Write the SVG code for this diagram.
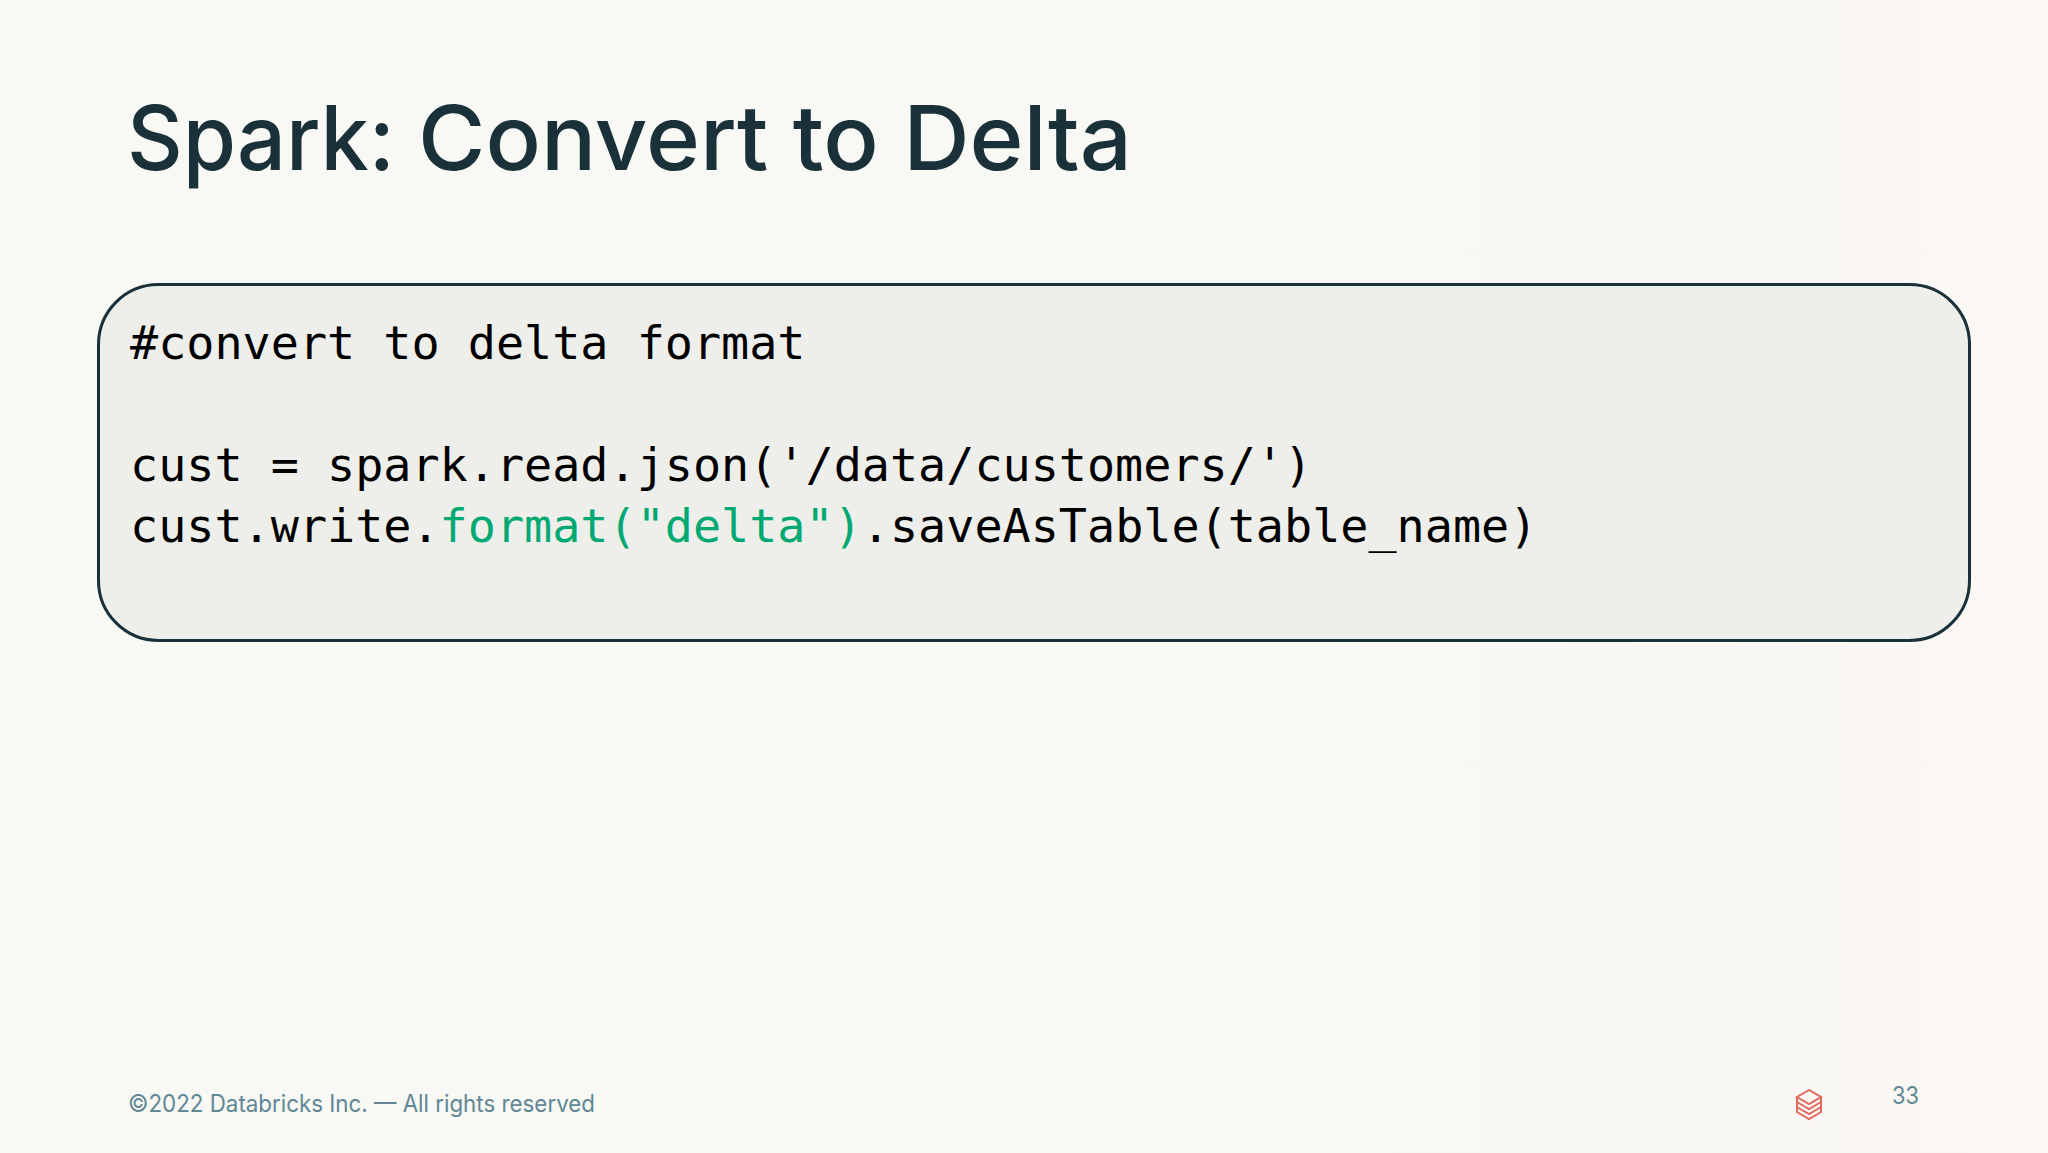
<svg xmlns="http://www.w3.org/2000/svg" width="2048" height="1153" viewBox="0 0 2048 1153">
<style>
.title{font-family:"Inter","Liberation Sans",sans-serif;font-size:90px;font-weight:500;fill:#1b3139}
.code{font-family:"DejaVu Sans Mono","Liberation Mono",monospace;font-size:46.75px;fill:#000}
.green{fill:#00a972}
.foot{font-family:"Inter","Liberation Sans",sans-serif;font-size:24px;font-weight:400;fill:#618794}
.icon{fill:none;stroke:#e2695c;stroke-width:2}
</style>
<defs><linearGradient id="bg" x1="0" x2="1" y1="0" y2="0"><stop offset="0" stop-color="#f8f8f4"/><stop offset="0.6" stop-color="#f8f8f5"/><stop offset="1" stop-color="#faf7f4"/></linearGradient></defs>
<rect width="2048" height="1153" fill="url(#bg)"/>
<text class="title" y="170"><tspan x="127" textLength="268" lengthAdjust="spacingAndGlyphs">Spark:</tspan> <tspan x="418" textLength="714" lengthAdjust="spacingAndGlyphs">Convert to Delta</tspan></text>
<g id="code-box">
<rect x="98.500" y="284.500" width="1871" height="356" rx="60" ry="60" fill="#eeeeea" stroke="#1b3139" stroke-width="3"/>
<text class="code" x="130" y="359" xml:space="preserve">#convert to delta format</text>
<text class="code" x="130" y="481" xml:space="preserve">cust = spark.read.json('/data/customers/')</text>
<text class="code" x="130" y="542" xml:space="preserve">cust.write.<tspan class="green">format("delta")</tspan>.saveAsTable(table_name)</text>
</g>
<text class="foot" x="128" y="1112" textLength="467" lengthAdjust="spacingAndGlyphs">©2022 Databricks Inc. — All rights reserved</text>
<g id="logo" class="icon">
<path d="M1809 1090 L1797 1097 L1809 1104 L1821 1097 Z"/>
<path d="M1797 1097 V1102 L1809 1109 L1821 1102 V1097"/>
<path d="M1797 1102 V1107 L1809 1114 L1821 1107 V1102"/>
<path d="M1797 1107 V1112 L1809 1119 L1821 1112 V1107"/>
</g>
<text class="foot" x="1892" y="1104" textLength="27" lengthAdjust="spacingAndGlyphs">33</text>
</svg>
